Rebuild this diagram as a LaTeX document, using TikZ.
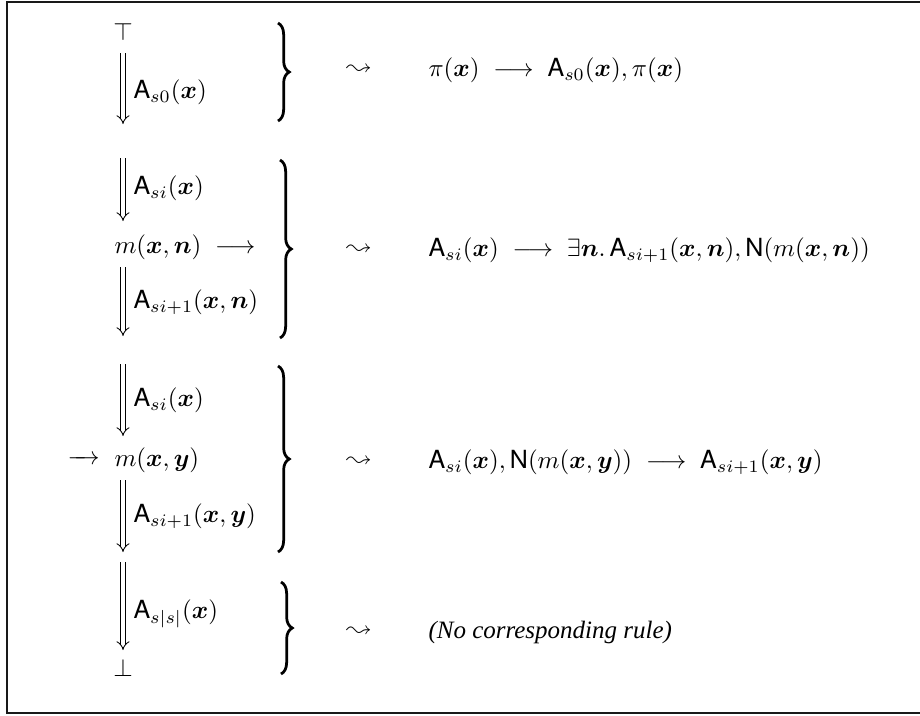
\documentclass[tikz,border=0pt]{standalone}
\usepackage{amsmath,latexsym}
\usepackage{fontspec}
\newfontfamily\rulenote{Liberation Serif}
\newfontfamily\predfont{TeX Gyre Heros}
\usetikzlibrary{arrows.meta,decorations.pathreplacing}
\newcommand{\bfx}{\boldsymbol{x}}
\newcommand{\bfn}{\boldsymbol{n}}
\newcommand{\bfy}{\boldsymbol{y}}
\newcommand{\As}[1]{\mbox{\predfont A}_{#1}}
\newcommand{\Nf}{\mbox{\predfont N}}
\newcommand{\midarrow}{\mathrel{\relbar\mkern-9mu\rightarrow}}

\begin{document}
\begin{tikzpicture}[x=0.4pt,y=-0.4pt,
  txt/.style={inner sep=0pt},
  lbl/.style={anchor=west, inner sep=0pt},
  dbl/.style={double, double distance=1.5pt, line width=0.35pt, -{Implies[scale=1.7]}},
  rbrace/.style={decorate, decoration={brace, amplitude=4.5pt}, line width=1.1pt},
  frame/.style={line width=0.9pt, draw=black!90}]
\useasboundingbox (0,0) rectangle (920,715);
% outer frame
\draw[frame] (935,2) -- (7,2) -- (7,713) -- (935,713);

% ---- block 1: top
\node[txt] (top) at (123,32) {$\top$};
\coordinate (a1s) at (123,53); \coordinate (a1e) at (123,124);
\draw[dbl] (a1s) -- (a1e);
\node[lbl] (l1) at (133,92) {$\As{s0}(\bfx)$};
\coordinate (b1s) at (278,23); \coordinate (b1e) at (278,121);
\draw[rbrace] (b1s) -- (b1e);
\node[txt] (w1) at (359,70) {$\leadsto$};
\node[lbl] (r1) at (428,70) {$\pi(\bfx)\;\longrightarrow\;\As{s0}(\bfx),\pi(\bfx)$};

% ---- block 2: fresh name
\coordinate (a2s) at (123,158); \coordinate (a2e) at (123,221);
\draw[dbl] (a2s) -- (a2e);
\node[lbl] (l2a) at (133,188) {$\As{si}(\bfx)$};
\node[lbl] (m2) at (114,247) {$m(\bfx,\bfn)\;\longrightarrow$};
\coordinate (a3s) at (123,267); \coordinate (a3e) at (123,336);
\draw[dbl] (a3s) -- (a3e);
\node[lbl] (l2b) at (133,302) {$\As{si+1}(\bfx,\bfn)$};
\coordinate (b2s) at (280,160); \coordinate (b2e) at (280,338);
\draw[rbrace] (b2s) -- (b2e);
\node[txt] (w2) at (359,250) {$\leadsto$};
\node[lbl] (r2) at (428,250) {$\As{si}(\bfx)\;\longrightarrow\;\exists\bfn.\,\As{si+1}(\bfx,\bfn),\Nf(m(\bfx,\bfn))$};

% ---- block 3: received name
\coordinate (a4s) at (123,364); \coordinate (a4e) at (123,436);
\draw[dbl] (a4s) -- (a4e);
\node[lbl] (l3a) at (133,400) {$\As{si}(\bfx)$};
\node[lbl] (m3) at (114,460) {$m(\bfx,\bfy)$};
\node[txt, anchor=east] (in3) at (100,460) {$\midarrow$};
\coordinate (a5s) at (123,480); \coordinate (a5e) at (123,552);
\draw[dbl] (a5s) -- (a5e);
\node[lbl] (l3b) at (133,516) {$\As{si+1}(\bfx,\bfy)$};
\coordinate (b3s) at (278,366); \coordinate (b3e) at (278,552);
\draw[rbrace] (b3s) -- (b3e);
\node[txt] (w3) at (359,462) {$\leadsto$};
\node[lbl] (r3) at (428,462) {$\As{si}(\bfx),\Nf(m(\bfx,\bfy))\;\longrightarrow\;\As{si+1}(\bfx,\bfy)$};

% ---- block 4: bottom
\coordinate (a6s) at (123,562); \coordinate (a6e) at (123,650);
\draw[dbl] (a6s) -- (a6e);
\node[lbl] (l4) at (133,614) {$\As{s|s|}(\bfx)$};
\node[txt] (bot) at (123,668) {$\bot$};
\coordinate (b4s) at (281,582); \coordinate (b4e) at (281,674);
\draw[rbrace] (b4s) -- (b4e);
\node[txt] (w4) at (359,632) {$\leadsto$};
\node[lbl] (r4) at (428,632) {\rulenote\itshape (No corresponding rule)};
\end{tikzpicture}
\end{document}
